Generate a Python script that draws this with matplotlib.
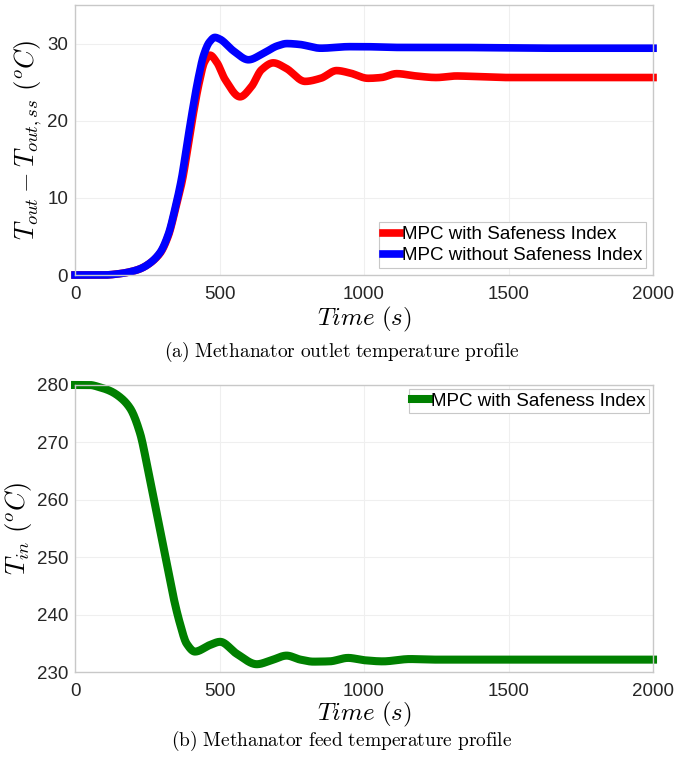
import matplotlib
matplotlib.use("Agg")
import matplotlib.pyplot as plt
import numpy as np

plt.rcParams['mathtext.fontset'] = 'cm'
plt.rcParams['font.family'] = ['Liberation Sans', 'DejaVu Sans']

# outlet temperature deviation (top panel)
t_blue = [0, 100, 156, 200, 225, 250, 294, 323, 346, 369, 386, 404, 427, 445, 465, 484,
          500, 550, 600, 650, 700, 733, 775, 850, 950, 1000, 1100, 1300, 1600, 2000]
y_blue = [0, 0, 0.18, 0.5, 0.8, 1.3, 2.9, 5.3, 8.6, 12.6, 16.6, 20.8, 25.6, 28.5, 30.2, 30.8,
          30.6, 29.0, 27.9, 28.7, 29.7, 30.0, 29.9, 29.4, 29.6, 29.6, 29.5, 29.5, 29.4, 29.4]

t_red = [0, 100, 156, 200, 225, 250, 294, 323, 346, 372, 390, 408, 430, 448, 467, 490,
         520, 571, 610, 645, 686, 730, 796, 850, 905, 950, 1014, 1060, 1113, 1180, 1250, 1320,
         1400, 1500, 2000]
y_red = [0, 0, 0.18, 0.5, 0.8, 1.3, 2.8, 5.1, 8.3, 12.4, 16.4, 20.6, 25.0, 27.6, 28.5, 27.6,
         25.3, 23.1, 24.4, 26.6, 27.5, 26.8, 25.1, 25.5, 26.5, 26.2, 25.5, 25.6, 26.1, 25.8, 25.6,
         25.8, 25.7, 25.6, 25.6]

# feed temperature (bottom panel)
t_green = [0, 50, 86, 120, 150, 190, 225, 248, 271, 294, 317, 340, 363, 386, 415, 467, 502,
           560, 629, 680, 732, 780, 825, 880, 945, 1000, 1065, 1159, 1250, 1400, 1600, 2000]
y_green = [280, 280, 279.6, 279.0, 278.1, 276.0, 271.6, 266.4, 260.6, 254.8, 249.0, 243.2,
           238.5, 235.0, 233.6, 234.75, 235.3, 233.2, 231.4, 232.1, 232.9, 232.2, 231.85, 231.9,
           232.5, 232.1, 231.9, 232.3, 232.2, 232.2, 232.2, 232.2]

labels_top = ['MPC with Safeness Index', 'MPC without Safeness Index']
labels_bot = ['MPC with Safeness Index']


def smooth(t, y, n=1500):
    # piecewise cubic hermite (Fritsch-Carlson slopes) through the read points
    t = np.asarray(t, float)
    y = np.asarray(y, float)
    h = np.diff(t)
    d = np.diff(y) / h
    m = np.zeros_like(y)
    for i in range(1, len(y) - 1):
        if d[i - 1] * d[i] > 0:
            w1 = 2 * h[i] + h[i - 1]
            w2 = h[i] + 2 * h[i - 1]
            m[i] = (w1 + w2) / (w1 / d[i - 1] + w2 / d[i])
    tt = np.linspace(t[0], t[-1], n)
    idx = np.clip(np.searchsorted(t, tt) - 1, 0, len(t) - 2)
    s = (tt - t[idx]) / h[idx]
    h00 = 2 * s**3 - 3 * s**2 + 1
    h10 = s**3 - 2 * s**2 + s
    h01 = -2 * s**3 + 3 * s**2
    h11 = s**3 - s**2
    yy = h00 * y[idx] + h10 * h[idx] * m[idx] + h01 * y[idx + 1] + h11 * h[idx] * m[idx + 1]
    return tt, yy


def style(ax):
    for s in ax.spines.values():
        s.set_color('#c8c8c8')
        s.set_linewidth(1.0)
    ax.grid(True, color='#efefef', linewidth=0.8)
    ax.set_axisbelow(True)
    ax.tick_params(length=0, labelsize=13.5, labelcolor='#262626')
    ax.tick_params(axis='x', pad=8)
    ax.tick_params(axis='y', pad=5)


fig = plt.figure(figsize=(6.76, 7.58), dpi=100)
ax1 = fig.add_axes([0.111, 0.6372, 0.855, 0.3562])
ax2 = fig.add_axes([0.111, 0.1131, 0.855, 0.379])

tr, yr = smooth(t_red, y_red)
tb, yb = smooth(t_blue, y_blue)
ax1.plot(tr, yr, color=(1, 0, 0), linewidth=5.5, label=labels_top[0], clip_on=False)
ax1.plot(tb, yb, color=(0, 0, 1), linewidth=5.5, label=labels_top[1], clip_on=False)
ax1.set_xlim(0, 2000)
ax1.set_ylim(0, 35)
ax1.set_xticks([0, 500, 1000, 1500, 2000])
ax1.set_yticks([0, 10, 20, 30])
style(ax1)
ax1.set_xlabel(r'$Time\ (s)$', fontsize=18, labelpad=1)
ax1.set_ylabel(r'$T_{out} - T_{out,ss}\ (^oC)$', fontsize=19, labelpad=2)
leg = ax1.legend(loc='lower right', fontsize=13.5, handlelength=0.9, handletextpad=0.1,
                 labelspacing=0.2, borderpad=0.2, borderaxespad=0.38, fancybox=False,
                 framealpha=1)
leg.get_frame().set_edgecolor('#c8c8c8')
leg.get_frame().set_linewidth(0.8)

tg, yg = smooth(t_green, y_green)
ax2.plot(tg, yg, color=(0, 0.5, 0), linewidth=5.8, label=labels_bot[0], clip_on=False)
ax2.set_xlim(0, 2000)
ax2.set_ylim(230, 280)
ax2.set_xticks([0, 500, 1000, 1500, 2000])
ax2.set_yticks([230, 240, 250, 260, 270, 280])
style(ax2)
ax2.set_xlabel(r'$Time\ (s)$', fontsize=18, labelpad=0)
ax2.set_ylabel(r'$T_{in}\ (^oC)$', fontsize=19, labelpad=2)
leg2 = ax2.legend(loc='upper right', fontsize=13.5, handlelength=0.9, handletextpad=0.1,
                  borderpad=0.2, borderaxespad=0.2, fancybox=False, framealpha=1)
leg2.get_frame().set_edgecolor('#c8c8c8')
leg2.get_frame().set_linewidth(0.8)

fig.text(0.505, 1 - 352 / 758, r'$\mathrm{(a)\ Methanator\ outlet\ temperature\ profile}$',
         ha='center', va='center', fontsize=14)
fig.text(0.505, 1 - 741 / 758, r'$\mathrm{(b)\ Methanator\ feed\ temperature\ profile}$',
         ha='center', va='center', fontsize=14)

fig.savefig('out.png', dpi=100)
